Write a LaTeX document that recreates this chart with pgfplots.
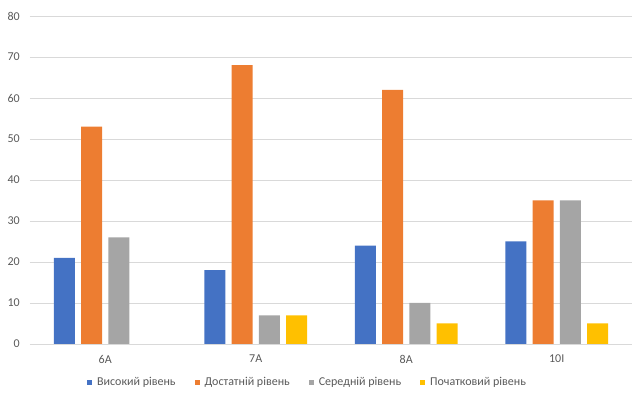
\documentclass[border=0pt]{standalone}
\usepackage{pgfplots}
\pgfplotsset{compat=1.18}
\usepackage{fontspec}
\setmainfont{Carlito}
\definecolor{cblue}{HTML}{4472C4}
\definecolor{corange}{HTML}{ED7D31}
\definecolor{cgray}{HTML}{A5A5A5}
\definecolor{cyellow}{HTML}{FFC000}
\definecolor{cgrid}{HTML}{D9D9D9}
\definecolor{ctext}{HTML}{595959}
\begin{document}
\fontsize{12}{14}\selectfont
\begin{tikzpicture}
\path[use as bounding box] (-30pt,-57pt) rectangle (613pt,344pt);
\begin{axis}[
  scale only axis,
  width=602pt, height=328pt,
  ybar=6.3pt, bar width=21pt,
  xmin=-0.5, xmax=3.5,
  ymin=0, ymax=80,
  ytick={0,10,...,80},
  xtick={0,1,2,3},
  xticklabels={6А,7А,8А,10І},
  axis line style={draw=none},
  major tick length=0pt,
  ymajorgrids, grid style={cgrid, line width=0.8pt},
  tick label style={text=ctext, font=\fontsize{12}{14}\selectfont},
  /pgf/number format/assume math mode=true,
  yticklabel style={xshift=-6pt},
  xticklabel style={yshift=-7pt},
  legend style={at={(0.461,-0.116)}, anchor=center, draw=none, fill=none,
    legend columns=4, font=\fontsize{12}{14}\selectfont, text=ctext,
    /tikz/every even column/.append style={column sep=17pt},
    /tikz/every odd column/.append style={column sep=3pt},
    inner sep=0pt},
  legend image code/.code={\fill[#1] (0pt,-2.5pt) rectangle (5pt,2.5pt);},
  every axis plot/.append style={draw=none},
]
\addplot[fill=cblue] coordinates {(0,21) (1,18) (2,24) (3,25)};
\addplot[fill=corange] coordinates {(0,53) (1,68) (2,62) (3,35)};
\addplot[fill=cgray] coordinates {(0,26) (1,7) (2,10) (3,35)};
\addplot[fill=cyellow] coordinates {(1,7) (2,5) (3,5)};
\legend{Високий рівень, Достатній рівень, Середній рівень, Початковий рівень}
\end{axis}
\end{tikzpicture}
\end{document}
